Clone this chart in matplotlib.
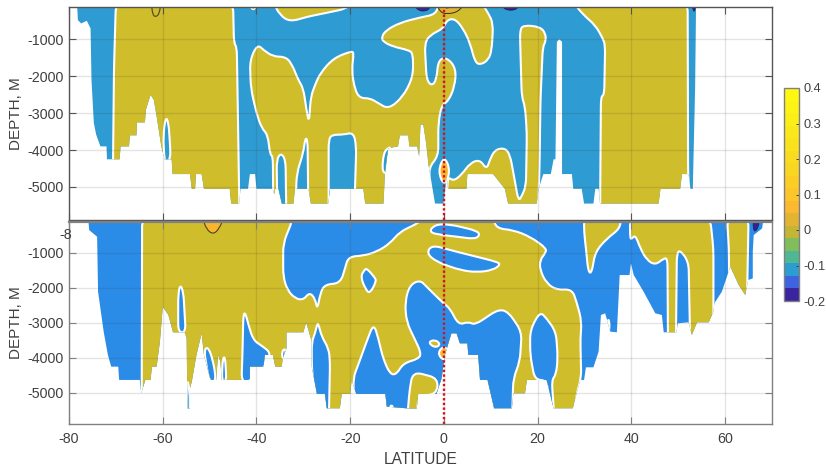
import numpy as np
import matplotlib
matplotlib.use('Agg')
import matplotlib.pyplot as plt
from matplotlib.cm import ScalarMappable
from matplotlib.colors import BoundaryNorm, ListedColormap
from matplotlib.patches import PathPatch
from matplotlib.path import Path

plt.rcParams['font.family'] = ['Liberation Sans', 'DejaVu Sans']
plt.rcParams['axes.unicode_minus'] = False

lat_ticks = [-80, -60, -40, -20, 0, 20, 40, 60]
depth_ticks = [-5000, -4000, -3000, -2000, -1000]
cbar_ticks = [-0.2, -0.1, 0, 0.1, 0.2, 0.3, 0.4]
cbar_labels = ['-0.2', '-0.1', '0', '0.1', '0.2', '0.3', '0.4']

# ---- upper section: ocean floor, then regions as (lat, depth) outlines
top_floor_lat = [-78.3, -78.1, -77.4, -76.2, -75.4, -75.2, -74.7, -74.2, -73.3, -72.0, -71.9, -69.2, -69.0, -67.2, -67.0, -65.6, -65.5, -63.8, -63.6, -62.6, -61.9, -61.3, -60.3, -59.6, -58.1, -57.9, -54.2, -53.8, -53.1, -52.9, -51.7, -51.2, -45.7, -45.4, -43.7, -43.4, -41.8, -41.4, -40.3, -40.0, -36.5, -36.2, -36.0, -35.3, -34.6, -32.1, -31.8, -28.9, -28.4, -24.7, -24.3, -17.2, -16.8, -12.9, -12.6, -11.9, -9.8, -9.4, -7.6, -7.4, -5.7, -5.3, -5.0, -4.4, -3.8, -3.3, -1.9, -0.1, 0.6, 0.9, 4.8, 5.0, 10.5, 13.0, 13.7, 19.8, 20.2, 21.2, 22.8, 23.4, 23.8, 24.1, 24.6, 25.2, 25.2, 27.3, 27.6, 29.4, 29.9, 31.9, 32.3, 33.0, 33.3, 45.8, 46.2, 50.4, 50.8, 52.2, 52.6, 53.1, 53.6, 53.8]
top_floor_depth = [0, -478, -568, -496, -703, -2098, -3268, -3583, -3900, -3900, -4250, -4250, -3900, -3900, -3600, -3600, -3250, -3250, -2908, -2503, -2638, -3088, -3900, -4250, -4250, -4650, -4650, -5050, -5050, -4650, -4650, -5050, -5050, -5450, -5450, -5050, -5050, -4650, -4650, -5050, -5050, -5200, -5050, -5050, -5450, -5450, -5050, -5050, -5450, -5450, -5050, -5050, -5450, -5450, -4650, -3950, -3900, -3600, -3600, -3900, -3900, -4170, -3310, -3310, -3810, -4393, -5450, -5450, -4708, -5050, -5050, -4650, -4650, -5050, -5450, -5450, -5050, -4650, -4650, -4250, -4250, -1063, -1000, -1063, -4650, -4650, -5050, -5050, -5450, -5450, -5050, -5050, -5450, -5450, -5050, -5050, -4650, -4650, -5050, -5050, -2296, 0]

top_gold_west_lat = [-70.0, -70.4, -70.6, -70.6, -43.6, -43.9, -44.2, -44.8, -45.0]
top_gold_west_depth = [0, -1800, -4300, -6000, -6000, -3540, -1200, -1110, 0]
top_blue_pocket_lat = [-59.4, -58.8, -58.5, -58.3, -59.6, -59.9]
top_blue_pocket_depth = [-3106, -3230, -3718, -4258, -4350, -3628]
top_gold_shelf_lat = [-36.4, -35.0, -32.8, -29.3, -25.0, -20.7, -20.0]
top_gold_shelf_depth = [0, -343, -523, -388, -280, -163, 0]

top_gold_mid_lat = [-36.4, -36.5, -37.1, -37.6, -38.9, -40.0, -41.2, -41.4, -39.8, -38.5, -36.4, -33.9, -32.5, -31.1, -30.0, -29.4, -28.8, -28.4, -27.5, -26.4, -23.6, -19.7, -19.2, -19.7, -19.0, -17.9, -15.8, -14.0, -11.8, -8.7, -6.6, -6.6, -7.6, -10.8, -13.0, -13.3, -12.3, -9.4, -5.1, -1.6, -1.2, 8.0, 9.5, 10.5, 10.2, 9.5, 7.7, 6.6, 5.6, 4.1, 2.3, 0.6, -0.1, -3.0, -4.1, -3.7, -2.6, -1.6, -1.2, 0.6, 2.6, 2.3, 0.9, -0.5, -1.2, -1.2, -3.3, -1.9]
top_gold_mid_depth = [-6000, -4168, -4123, -3583, -3403, -3000, -2323, -1558, -1135, -1288, -1468, -1468, -1648, -2098, -2323, -2863, -3268, -2548, -2233, -1918, -1513, -1315, -1378, -1828, -2368, -2593, -2593, -2728, -2890, -2548, -2008, -1378, -1288, -1198, -1063, -928, -748, -550, -406, -316, 0, 0, -298, -568, -1288, -1558, -1693, -1603, -1108, -703, -433, -478, -703, -883, -1108, -2098, -2260, -2098, -1558, -1486, -1783, -2278, -2683, -2773, -3268, -4168, -4483, -6000]

top_blue_a_lat = [-35.7, -34.8, -33.8, -33.6, -35.5]
top_blue_a_depth = [-4258, -4078, -4258, -6000, -6000]
top_blue_b_lat = [-31.8, -31.4, -30.0, -29.6, -29.1, -28.9]
top_blue_b_depth = [-6000, -4618, -4078, -3673, -3718, -6000]
top_blue_c_lat = [-24.6, -24.6, -23.9, -21.4, -19.3, -18.7, -19.2]
top_blue_c_depth = [-6000, -3718, -3583, -3583, -3520, -3898, -6000]
top_blue_d_lat = [-13.2, -12.9, -11.8, -11.3, -11.8]
top_blue_d_depth = [-4618, -4078, -3925, -3943, -4618]

top_gold_east_lat = [0.8, 2.0, 3.8, 5.6, 7.7, 9.1, 9.8, 10.9, 13.0, 14.1, 15.2, 15.9, 16.6, 17.5, 17.7, 17.3, 16.6, 16.2, 17.0, 20.5, 21.7, 21.7, 21.1, 20.6, 20.4, 20.0, 0.6]
top_gold_east_depth = [-4708, -4843, -4663, -4348, -4258, -4528, -4258, -3988, -3943, -4123, -4888, -5383, -5248, -4978, -3538, -2818, -2548, -748, -613, -658, -838, -1063, -1198, -2638, -4438, -6000, -6000]
top_gold_north_lat = [27.6, 29.8, 32.3, 33.9, 34.4, 34.2, 33.5, 33.3, 52.6, 52.1, 52.0]
top_gold_north_depth = [0, -343, -613, -973, -1153, -2503, -2548, -6000, -6000, -4618, 0]
top_gold_eq_lat = [-1.3, 0.1, 1.4, 0.1]
top_gold_eq_depth = [-4570, -4150, -4570, -4990]

top_orange_lat = [-62.4, -62.2, -61.5, -60.7, -60.4]
top_orange_depth = [0, -320, -400, -300, 0]
top_orange_b_lat = [-41.8, -40.7, -39.6]
top_orange_b_depth = [0, -260, 0]
top_eq_core_lat = [-1.6, -0.9, 0.6, 3.1, 4.5]
top_eq_core_depth = [0, -253, -316, -253, 0]
top_eq_inner_lat = [-0.4, 0.6, 2.2]
top_eq_inner_depth = [0, -200, 0]
top_indigo_a_lat = [-6.6, -5.5, -3.3, -2.5]
top_indigo_a_depth = [0, -235, -226, 0]
top_indigo_b_lat = [12.0, 13.0, 15.5, 16.4]
top_indigo_b_depth = [0, -208, -208, 0]
top_indigo_c_lat = [52.8, 53.4, 53.8]
top_indigo_c_depth = [0, -316, 0]

# ---- lower section
low_floor_lat = [-75.9, -75.7, -74.0, -73.8, -73.1, -72.6, -71.7, -71.0, -69.5, -69.3, -64.9, -64.6, -63.7, -62.6, -62.3, -61.3, -60.6, -60.0, -58.8, -57.8, -55.3, -54.9, -54.8, -54.7, -54.2, -54.2, -53.8, -52.8, -51.7, -51.2, -49.8, -48.6, -48.2, -47.7, -47.4, -43.5, -41.4, -41.4, -38.5, -38.2, -36.5, -36.0, -34.6, -34.4, -33.6, -33.6, -30.0, -29.4, -28.2, -28.2, -27.1, -25.4, -25.0, -22.2, -21.8, -20.0, -19.7, -18.7, -12.5, -12.2, -8.0, -5.8, -5.5, -1.6, -0.5, 0.2, 1.6, 2.7, 3.4, 5.0, 5.2, 7.3, 7.7, 9.3, 10.7, 14.5, 14.8, 17.3, 17.7, 21.9, 23.4, 27.5, 28.3, 29.1, 29.9, 30.3, 31.9, 33.0, 33.5, 34.4, 35.5, 36.9, 37.5, 39.6, 39.9, 40.5, 42.6, 45.1, 46.5, 46.9, 49.6, 49.9, 52.2, 52.9, 54.0, 56.5, 57.5, 57.7, 59.3, 61.1, 62.9, 64.3, 64.9, 65.9, 65.9, 66.1, 67.9, 68.2]
low_floor_depth = [0, -352, -543, -2114, -2780, -3256, -3922, -4256, -4256, -4636, -4636, -5017, -4636, -4636, -4256, -4256, -3542, -2542, -2780, -3275, -3275, -3446, -4589, -5446, -5446, -4875, -4684, -3922, -3304, -3922, -4636, -4636, -3922, -4113, -4636, -4636, -4636, -4256, -4256, -3922, -3922, -4256, -4256, -4017, -3732, -3275, -3275, -2989, -3542, -4256, -5036, -5036, -5446, -5446, -5036, -5036, -4636, -5036, -5036, -5398, -5446, -5446, -5036, -5036, -4589, -3922, -3304, -3304, -3589, -3589, -3922, -3922, -4636, -4636, -5446, -5446, -5017, -5017, -4636, -4636, -5446, -5446, -5017, -4636, -4636, -4275, -4275, -3827, -2780, -2732, -3256, -3275, -1638, -1638, -1304, -1638, -2114, -2732, -2780, -3275, -3275, -3018, -2989, -3351, -2989, -2989, -2685, -2447, -2114, -1400, -1923, -2209, -1780, -1733, -971, -495, -305, 0]

low_gold_main_lat = [-64.4, -64.5, 27.6, 28.3, 29.3, 29.1, 29.4, 28.3, 27.3, 24.1, 21.9, 20.5, 20.5, 21.6, 21.9, 18.4, 14.8, 11.2, 10.5, -3.7, -6.6, -9.4, -11.5, -14.3, -17.2, -20.4, -21.1, -22.1, -25.4, -26.4, -27.0, -27.5, -28.7, -30.0, -31.8, -33.4, -34.3, -34.3, -32.1]
low_gold_main_depth = [0, -6000, -6000, -5017, -4589, -3446, -2970, -2399, -2037, -2066, -1876, -1495, -1209, -1019, -876, -543, -352, -305, 0, 0, -229, -400, -733, -971, -1085, -1114, -1447, -1876, -1904, -2161, -2637, -2304, -2133, -2352, -2304, -2066, -1685, -733, 0]

low_blue_eq_lat = [-19.4, -18.3, -16.5, -15.0, -14.0, -13.0, -11.5, -10.1, -8.7, -5.5, -4.8, -8.0, -8.3, -7.3, -5.1, -3.7, -0.1, 1.3, 3.1, 5.2, 6.6, 11.6, 13.7, 16.6, 16.2, 14.8, 14.5, -18.7]
low_blue_eq_depth = [-4589, -4208, -3542, -3018, -3446, -4018, -4475, -4475, -4160, -4037, -3875, -2970, -2399, -1923, -1780, -1971, -2447, -2590, -3066, -2970, -3066, -2618, -2685, -3256, -4113, -4589, -6000, -6000]
low_blue_oval_lat = [18.4, 20.5, 21.9, 23.9, 24.3, 23.9, 23.0, 23.7, 23.2, 21.9, 19.4, 18.4]
low_blue_oval_depth = [-3208, -2685, -2875, -3256, -4018, -4494, -4636, -6000, -6000, -4636, -4636, -3922]
low_blue_lens_a_lat = [-3.3, -1.9, 1.3, 7.0, 7.7, 6.6, 2.7, -0.1]
low_blue_lens_a_depth = [-420, -190, -190, -370, -495, -610, -540, -500]
low_blue_lens_b_lat = [-3.7, -2.6, 2.7, 11.2, 12.1, 10.5, 7.0, 3.4, -1.6]
low_blue_lens_b_depth = [-1019, -781, -971, -1257, -1333, -1495, -1561, -1495, -1257]
low_blue_e_lat = [-56.3, -55.6, -55.1, -56.7, -56.7]
low_blue_e_depth = [-1904, -2114, -3275, -3275, -2209]
low_blue_f_lat = [-42.8, -42.4, -41.7, -40.7, -38.9, -36.8, -38.2, -41.4, -43.2, -43.0]
low_blue_f_depth = [-2780, -2704, -3066, -3494, -3656, -3875, -4256, -4684, -4684, -3922]
low_blue_g_lat = [-51.2, -50.3, -49.2, -48.6, -50.1]
low_blue_g_depth = [-3780, -3684, -4113, -4684, -4684]
low_blue_h_lat = [-47.2, -46.7, -46.4, -47.4]
low_blue_h_depth = [-4018, -3970, -4684, -4684]
low_blue_i_lat = [-34.6, -33.9, -33.7, -34.4]
low_blue_i_depth = [-3827, -3732, -3922, -4065]
low_blue_j_lat = [-27.1, -26.8, -26.1, -24.6, -24.3, -24.6, -27.1, -28.2, -28.2, -27.5]
low_blue_j_depth = [-3066, -3018, -3399, -3732, -4113, -6000, -6000, -4256, -3542, -3304]
low_blue_k_lat = [-17.0, -16.5, -14.8, -14.4, -15.8, -16.7, -17.8]
low_blue_k_depth = [-1500, -1440, -1700, -1809, -2170, -2050, -1685]
low_blue_l_lat = [-54.8, -54.2, -54.2, -54.8]
low_blue_l_depth = [-4589, -4970, -6000, -6000]

low_gold_patch_lat = [-6.6, -1.2, -1.6, -5.5, -5.8, -8.0, -7.3]
low_gold_patch_depth = [-4398, -4589, -5065, -5065, -6000, -6000, -4875]
low_gold_peak_lat = [-12.1, -11.2, -10.3]
low_gold_peak_depth = [-5700, -5255, -5700]
low_gold_ring_lat = [-3.4, -1.9, -0.7, -1.9]
low_gold_ring_depth = [-3560, -3480, -3618, -3720]
low_gold_eq_lat = [-1.4, 0.0, 1.4, 0.0]
low_gold_eq_depth = [-3875, -3650, -3875, -4100]
low_gold_b_lat = [29.9, 37.7, 37.6, 34.8, 32.3, 31.5, 30.8, 30.3, 29.9]
low_gold_b_depth = [0, 0, -305, -590, -971, -1590, -1543, -876, -400]
low_gold_c_lat = [39.7, 56.8, 57.5, 57.5, 52.9, 52.2, 50.4, 49.7, 49.3, 47.9, 47.7, 46.9, 45.1, 43.3, 41.9, 40.8, 39.9, 39.7]
low_gold_c_depth = [0, 0, -876, -6000, -6000, -1257, -924, -1019, -6000, -6000, -1162, -1162, -1352, -1209, -876, -476, -638, -495]
low_gold_d_lat = [60.4, 65.0, 64.7, 64.3, 61.1, 60.8]
low_gold_d_depth = [0, 0, -2114, -6000, -6000, -876]
low_gold_e_lat = [34.9, 35.3, 35.3, 34.9]
low_gold_e_depth = [-2923, -2923, -3256, -3256]
low_orange_lat = [-51.5, -50.7, -49.2, -47.9, -47.0]
low_orange_depth = [0, -330, -480, -300, 0]
low_indigo_lat = [65.9, 66.1, 67.2, 67.2]
low_indigo_depth = [0, -448, -257, 0]
low_eq_cap_lat = [-1.2, 0.2, 1.7]
low_eq_cap_depth = [0, -170, 0]

cbar_colors = ['#3a259f', '#3d63e0', '#2b9dd0', '#4fb794', '#82bd5b', '#c4b634', '#e3b332', '#fbb930', '#fcc52a',
               '#fbcd25', '#f9d621', '#f9dc20', '#fae31d', '#fbe81a', '#fcee17', '#fdf314', '#fff912']

GOLD = '#d0bd2b'
TOP_BLUE = '#2f9bd3'
LOW_BLUE = '#2b8ce8'
ORANGE = '#f8b62f'
INDIGO = '#352299'
TEXT = '#404040'


def rounded_outline(lat, depth, radius=9.0):
    # contour outlines have soft corners, so each vertex is drawn as a curve control point
    pts = np.column_stack([lat, depth]).astype(float)
    scale = np.array([4.68, 0.036])  # px per degree, px per metre
    verts, codes = [], []
    n = len(pts)
    for i in range(n):
        prev_pt, pt, next_pt = pts[i - 1], pts[i], pts[(i + 1) % n]
        a = min(0.5, radius / max(np.linalg.norm((prev_pt - pt) * scale), 1e-6))
        b = min(0.5, radius / max(np.linalg.norm((next_pt - pt) * scale), 1e-6))
        verts += [pt + (prev_pt - pt) * a, pt, pt + (next_pt - pt) * b]
        codes += [Path.LINETO, Path.CURVE3, Path.CURVE3]
    codes[0] = Path.MOVETO
    verts.append(verts[0])
    codes.append(Path.CLOSEPOLY)
    return Path(verts, codes)


def region(ax, floor, lat, depth, color, edge='white', lw=1.5, z=2):
    shape = PathPatch(rounded_outline(lat, depth), facecolor=color, edgecolor=edge, linewidth=lw, zorder=z, joinstyle='round')
    ax.add_patch(shape)
    shape.set_clip_path(floor)


def style_axis(ax, spine):
    ax.set_xlim(-80, 70)
    ax.set_ylim(-5895, -122)
    ax.set_xticks(lat_ticks)
    ax.set_yticks(depth_ticks)
    ax.grid(True, color='#303030', alpha=0.13, linewidth=1)
    ax.set_axisbelow(False)
    ax.tick_params(direction='in', length=5, top=True, right=True, color=spine, labelcolor=TEXT, labelsize=10.3, width=0.8, pad=4)
    for s in ax.spines.values():
        s.set_color(spine)
        s.set_linewidth(1)
        s.set_zorder(10)
    ax.set_ylabel('DEPTH, M', fontsize=11, color=TEXT, labelpad=3)
    ax.axvline(0, color='#d0141c', linewidth=1.7, linestyle=(0, (1, 1)), zorder=7)


fig = plt.figure(figsize=(8.26, 4.67), dpi=100)
ax1 = fig.add_axes([69 / 826, 1 - 220 / 467, 703 / 826, 213 / 467])
ax2 = fig.add_axes([69 / 826, 1 - 424 / 467, 703 / 826, 202 / 467])

# upper section
floor1 = ax1.fill(top_floor_lat, top_floor_depth, color=TOP_BLUE, linewidth=0, zorder=1)[0]
for lat, depth in [(top_gold_west_lat, top_gold_west_depth), (top_gold_shelf_lat, top_gold_shelf_depth),
                   (top_gold_mid_lat, top_gold_mid_depth), (top_gold_east_lat, top_gold_east_depth),
                   (top_gold_north_lat, top_gold_north_depth)]:
    region(ax1, floor1, lat, depth, GOLD)
for lat, depth in [(top_blue_pocket_lat, top_blue_pocket_depth), (top_blue_a_lat, top_blue_a_depth),
                   (top_blue_b_lat, top_blue_b_depth), (top_blue_c_lat, top_blue_c_depth),
                   (top_blue_d_lat, top_blue_d_depth)]:
    region(ax1, floor1, lat, depth, TOP_BLUE, z=3)
region(ax1, floor1, top_gold_eq_lat, top_gold_eq_depth, ORANGE, z=4)
region(ax1, floor1, top_orange_lat, top_orange_depth, GOLD, edge='#4a4420', lw=0.8, z=4)
region(ax1, floor1, top_orange_b_lat, top_orange_b_depth, ORANGE, edge='white', lw=0.8, z=4)
region(ax1, floor1, top_eq_core_lat, top_eq_core_depth, '#e3b332', edge='#33301a', lw=0.7, z=4)
region(ax1, floor1, top_eq_inner_lat, top_eq_inner_depth, '#fae31d', edge='#33301a', lw=0.7, z=4)
for lat, depth in [(top_indigo_a_lat, top_indigo_a_depth), (top_indigo_b_lat, top_indigo_b_depth),
                   (top_indigo_c_lat, top_indigo_c_depth)]:
    region(ax1, floor1, lat, depth, INDIGO, edge='#22205a', lw=0.6, z=4)
style_axis(ax1, '#555555')
ax1.tick_params(labelbottom=False)

# lower section
floor2 = ax2.fill(low_floor_lat, low_floor_depth, color=LOW_BLUE, linewidth=0, zorder=1)[0]
for lat, depth in [(low_gold_main_lat, low_gold_main_depth), (low_gold_b_lat, low_gold_b_depth),
                   (low_gold_c_lat, low_gold_c_depth), (low_gold_d_lat, low_gold_d_depth)]:
    region(ax2, floor2, lat, depth, GOLD)
for lat, depth in [(low_blue_eq_lat, low_blue_eq_depth), (low_blue_oval_lat, low_blue_oval_depth),
                   (low_blue_lens_a_lat, low_blue_lens_a_depth), (low_blue_lens_b_lat, low_blue_lens_b_depth),
                   (low_blue_e_lat, low_blue_e_depth), (low_blue_f_lat, low_blue_f_depth),
                   (low_blue_g_lat, low_blue_g_depth), (low_blue_h_lat, low_blue_h_depth),
                   (low_blue_i_lat, low_blue_i_depth), (low_blue_j_lat, low_blue_j_depth),
                   (low_blue_k_lat, low_blue_k_depth), (low_blue_l_lat, low_blue_l_depth)]:
    region(ax2, floor2, lat, depth, LOW_BLUE, z=3)
for lat, depth in [(low_gold_patch_lat, low_gold_patch_depth), (low_gold_peak_lat, low_gold_peak_depth),
                   (low_gold_ring_lat, low_gold_ring_depth), (low_gold_e_lat, low_gold_e_depth)]:
    region(ax2, floor2, lat, depth, GOLD, z=4)
region(ax2, floor2, low_gold_eq_lat, low_gold_eq_depth, ORANGE, z=5)
region(ax2, floor2, low_orange_lat, low_orange_depth, ORANGE, edge='#4a4420', lw=0.8, z=5)
region(ax2, floor2, low_indigo_lat, low_indigo_depth, INDIGO, edge='#22205a', lw=0.6, z=5)
region(ax2, floor2, low_eq_cap_lat, low_eq_cap_depth, '#4a4420', edge='#33301a', lw=0.6, z=5)
style_axis(ax2, '#808080')
ax2.spines['top'].set_linewidth(1.6)
ax2.set_xlabel('LATITUDE', fontsize=11.2, color=TEXT, labelpad=4)
ax2.tick_params(axis='x', pad=6)
fig.text(59 / 826, 1 - 235 / 467, '-8', fontsize=10.3, color=TEXT, va='center', ha='left')

# colour scale
cax = fig.add_axes([784 / 826, 1 - 301 / 467, 15 / 826, 213 / 467])
bounds = np.linspace(-0.2, 0.4, len(cbar_colors) + 1)
mappable = ScalarMappable(norm=BoundaryNorm(bounds, len(cbar_colors)), cmap=ListedColormap(cbar_colors))
cbar = fig.colorbar(mappable, cax=cax, ticks=cbar_ticks, spacing='proportional', drawedges=False)
cbar.ax.minorticks_off()
cbar.ax.set_yticklabels(cbar_labels)
cbar.ax.tick_params(direction='in', length=2.5, width=0.7, color='#404040', labelcolor=TEXT, labelsize=9.2, pad=3.5)
cbar.outline.set_edgecolor('#808080')
cbar.outline.set_linewidth(1)

fig.savefig('out.png', dpi=100)
